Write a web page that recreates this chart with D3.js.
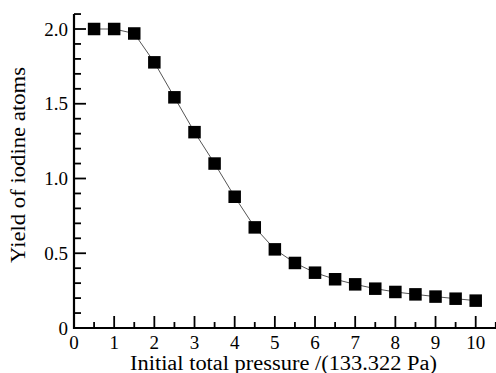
<!DOCTYPE html>
<html><head><meta charset="utf-8">
<script src="https://cdn.jsdelivr.net/npm/d3@7"></script>
<style>body{margin:0;background:#fff}svg{display:block}</style>
</head><body>
<svg id="c" width="496" height="373"></svg>
<script>
const pressure = [0.5,1,1.5,2,2.5,3,3.5,4,4.5,5,5.5,6,6.5,7,7.5,8,8.5,9,9.5,10];
const yieldI = [2.0,2.0,1.97,1.777,1.543,1.31,1.10,0.878,0.673,0.526,0.435,0.37,0.326,0.292,0.263,0.241,0.225,0.21,0.196,0.183];
const xTicks = [0,1,2,3,4,5,6,7,8,9,10];
const yTicks = [0,0.5,1.0,1.5,2.0];
const yTickLabels = ["0","0.5","1.0","1.5","2.0"];
const xTitle = "Initial total pressure /(133.322 Pa)";
const yTitle = "Yield of iodine atoms";

const svg = d3.select("#c");
const font = "Liberation Serif";
const x0 = 74, y0 = 328;
const x = d3.scaleLinear().domain([0,10]).range([x0, 475.7]);
const y = d3.scaleLinear().domain([0,2]).range([y0, 29]);

// x axis
const gx = svg.append("g");
gx.append("line").attr("x1",x0).attr("x2",496).attr("y1",y0).attr("y2",y0).attr("stroke","#000").attr("stroke-width",2.2);
d3.range(0,10.51,0.5).forEach(v=>{
  const major = Math.abs(v-Math.round(v))<1e-9;
  gx.append("line").attr("x1",x(v)).attr("x2",x(v)).attr("y1",y0).attr("y2",y0-(major?12:6)).attr("stroke","#000").attr("stroke-width",1.8);
});
gx.selectAll("text.t").data(xTicks).join("text").attr("class","t")
  .attr("x",d=>x(d)).attr("y",349).attr("text-anchor","middle")
  .attr("font-family",font).attr("font-size",19).text(d=>d);

// y axis
const gy = svg.append("g");
gy.append("line").attr("x1",x0).attr("x2",x0).attr("y1",y0+1).attr("y2",y(2.1)).attr("stroke","#000").attr("stroke-width",2.2);
d3.range(0,22).map(i=>i/10).forEach(v=>{
  const major = (Math.round(v*10)%5)===0;
  gy.append("line").attr("x1",x0).attr("x2",x0+(major?12:7)).attr("y1",y(v)).attr("y2",y(v)).attr("stroke","#000").attr("stroke-width",1.8);
});
gy.selectAll("text.t").data(yTicks).join("text").attr("class","t")
  .attr("x",68).attr("y",d=>y(d)+6.5).attr("text-anchor","end")
  .attr("font-family",font).attr("font-size",19).text((d,i)=>yTickLabels[i]);

// line + markers
svg.append("path").datum(pressure.map((p,i)=>[p,yieldI[i]]))
  .attr("d",d3.line().x(d=>x(d[0])).y(d=>y(d[1])))
  .attr("fill","none").attr("stroke","#555").attr("stroke-width",1);
const s = 12.5;
svg.selectAll("rect.m").data(pressure).join("rect").attr("class","m")
  .attr("x",(d)=>x(d)-s/2).attr("y",(d,i)=>y(yieldI[i])-s/2).attr("width",s).attr("height",s).attr("fill","#000");

// titles
svg.append("text").attr("x",283.5).attr("y",370).attr("text-anchor","middle")
  .attr("font-family",font).attr("font-size",20).attr("textLength",307).attr("lengthAdjust","spacingAndGlyphs").text(xTitle);
svg.append("text").attr("transform","translate(25,165) rotate(-90)").attr("text-anchor","middle")
  .attr("font-family",font).attr("font-size",20).attr("textLength",196).attr("lengthAdjust","spacingAndGlyphs").text(yTitle);
</script>
</body></html>
